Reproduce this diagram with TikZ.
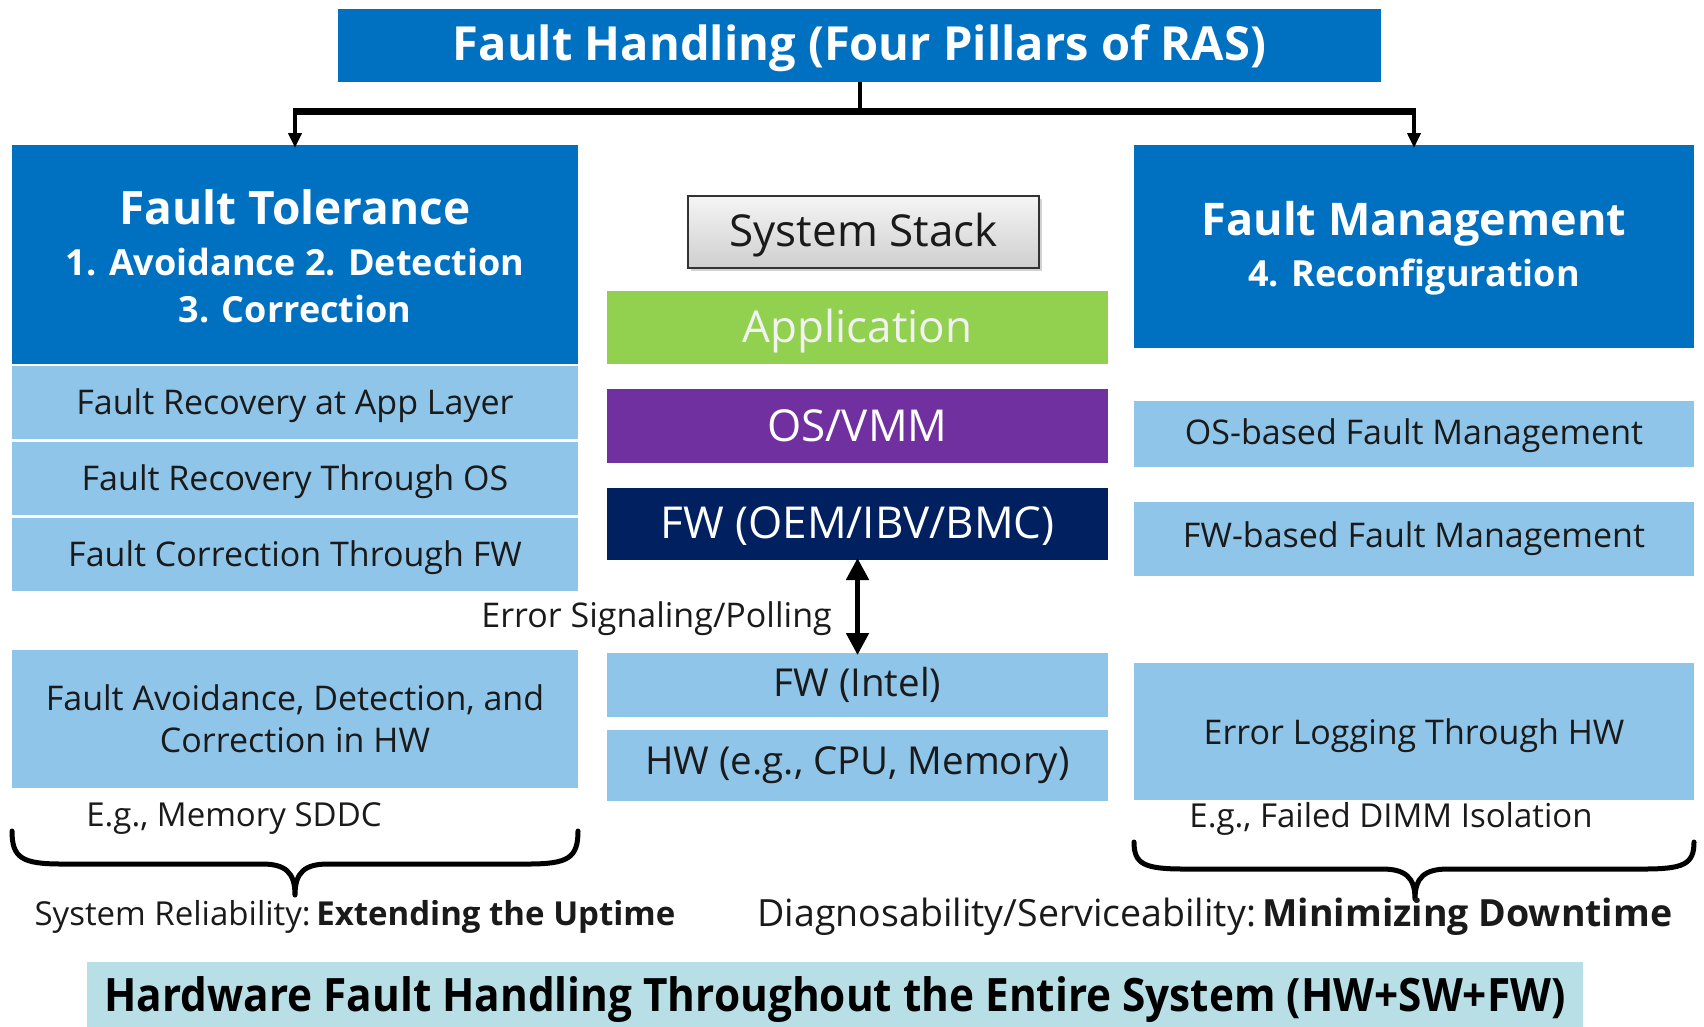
\documentclass[tikz,border=0pt]{standalone}
\usepackage{fontspec}
\setmainfont{Open Sans}
\usetikzlibrary{arrows.meta,shadows,calc}
\definecolor{rasblue}{HTML}{0070C0}
\definecolor{rowblue}{HTML}{8FC5E8}
\definecolor{appgreen}{HTML}{92D050}
\definecolor{ospurple}{HTML}{7030A0}
\definecolor{fwnavy}{HTML}{002060}
\definecolor{footteal}{HTML}{B7DFE5}
\definecolor{inktext}{HTML}{1A1A1A}
\newcommand{\fsz}[1]{\fontsize{#1}{#1}\selectfont}
% lower the ink without changing the box the node is centred on
\newcommand{\dropline}[2][3pt]{\raisebox{-#1}[\height][\depth]{#2}}
\tikzset{
  box/.style={rectangle, inner sep=0pt, outer sep=0pt, align=center},
  pillar/.style={box, fill=rasblue, text=white},
  head/.style={inner sep=0pt, text=white, font=\fsz{46}\bfseries},
  subhead/.style={inner sep=0pt, text=white, font=\fsz{36}\bfseries},
  row/.style={box, fill=rowblue, text=inktext, font=\fsz{34}},
  layer/.style={box, text=white, font=\fsz{44}},
  note/.style={inner sep=0pt, text=inktext},
  stem/.style={line width=4pt, black},
  drop/.style={line width=4pt, black, -{Triangle[length=15pt,width=13pt]}},
  brace/.style={line width=5pt, black, line cap=round, line join=round},
}
\begin{document}
\begin{tikzpicture}[x=1pt, y=-1pt]
\useasboundingbox (0,0) rectangle (1704,1026);
\fill[white] (0,0) rectangle (1704,1026);

% headline
\node[pillar, minimum width=1043pt, minimum height=73pt, font=\fsz{47}\bfseries] (title) at (859.5,45.5)
  {\dropline{Fault Handling (Four Pillars of RAS)}};

% left pillar: fault tolerance
\node[pillar, minimum width=566pt, minimum height=219pt] (ft) at (295,254.5) {};
\node[head] (fthead) at (295,207) {Fault Tolerance};
\node[subhead] (ftsub1) at (295,262) {1. Avoidance 2. Detection};
\node[subhead] (ftsub2) at (295,309) {3. Correction};
\node[row, minimum width=566pt, minimum height=73pt] (r1) at (295,402.5) {\dropline{Fault Recovery at App Layer}};
\node[row, minimum width=566pt, minimum height=73pt] (r2) at (295,478.5) {\dropline{Fault Recovery Through OS}};
\node[row, minimum width=566pt, minimum height=73pt] (r3) at (295,554.5) {\dropline{Fault Correction Through FW}};
\node[row, minimum width=566pt, minimum height=138pt] (hw) at (295,719)
  {Fault Avoidance, Detection, and\\[8pt]Correction in HW};

% centre column: system stack
\node[box, draw=black!80, line width=1.5pt, top color=gray!8, bottom color=gray!38,
      drop shadow={shadow xshift=3pt, shadow yshift=-3pt, opacity=0.35},
      minimum width=351pt, minimum height=72pt, font=\fsz{44}, text=inktext] (stack) at (863.5,232) {\dropline{System Stack}};
\node[layer, fill=appgreen, text=white!95!black, minimum width=501pt, minimum height=73pt] (app) at (857.5,327.5) {\dropline[4pt]{Application}};
\node[layer, fill=ospurple, minimum width=501pt, minimum height=74pt] (os) at (857.5,426) {OS/VMM};
\node[layer, fill=fwnavy, minimum width=501pt, minimum height=72pt] (fw) at (857.5,524) {\dropline[2pt]{FW (OEM/IBV/BMC)}};
\node[row, font=\fsz{38.5}, minimum width=501pt, minimum height=64pt] (fwi) at (857.5,685) {FW (Intel)};
\node[row, font=\fsz{38.5}, minimum width=501pt, minimum height=71pt] (hwc) at (857.5,765.5) {HW (e.g., CPU, Memory)};

% right pillar: fault management
\node[pillar, minimum width=560pt, minimum height=203pt] (fm) at (1414,246.5) {};
\node[head, font=\fsz{45}\bfseries] (fmhead) at (1414,224) {Fault Management};
\node[subhead] (fmsub) at (1414,277) {4. Reconfiguration};
\node[row, minimum width=560pt, minimum height=66pt] (osb) at (1414,434) {\dropline[2pt]{OS-based Fault Management}};
\node[row, minimum width=560pt, minimum height=74pt] (fwb) at (1414,539) {FW-based Fault Management};
\node[row, minimum width=560pt, minimum height=137pt] (el) at (1414,731.5) {\dropline[4pt]{Error Logging Through HW}};

% tree from the headline to both pillars
\coordinate (bar) at ($(title.south)+(0,29.5)$);
\draw[stem] (title.south) -- (bar);
\draw[line width=6.5pt, black] ([xshift=-2pt]bar -| ft.north) -- ([xshift=2pt]bar -| fm.north);
\draw[drop] (bar -| ft.north) -- ([yshift=-3pt]ft.north);
\draw[drop] (bar -| fm.north) -- ([yshift=-3pt]fm.north);

% error path between firmware layers
\draw[line width=5pt, black, {Triangle[length=22pt,width=22pt]}-{Triangle[length=22pt,width=22pt]}]
  ([yshift=2pt]fw.south) -- ([yshift=-2pt]fwi.north);
\node[note, anchor=east, font=\fsz{34}] (sig) at (832,619) {Error Signaling/Polling};

% examples and braces
\node[note, font=\fsz{33}] (exl) at (234,819) {E.g., Memory SDDC};
\node[note, font=\fsz{33}] (exr) at (1391,819) {E.g., Failed DIMM Isolation};
\draw[brace] (12,831) .. controls (12,858) and (22,864) .. (62,864) -- (262,864)
  .. controls (285,864) and (295,872) .. (295,895)
  .. controls (295,872) and (305,864) .. (328,864) -- (528,864)
  .. controls (568,864) and (578,858) .. (578,831);
\draw[brace] (1134,842) .. controls (1134,864) and (1144,869) .. (1184,869) -- (1382,869)
  .. controls (1405,869) and (1415,877) .. (1415,899)
  .. controls (1415,877) and (1425,869) .. (1448,869) -- (1644,869)
  .. controls (1684,869) and (1694,864) .. (1694,842);
\node[note, font=\fsz{33}] (rel) at (355,917) {System Reliability:\,\textbf{Extending the Uptime}};
\node[note, font=\fsz{37.5}] (diag) at (1215,917) {Diagnosability/Serviceability:\,\textbf{Minimizing Downtime}};

% footer banner
\node[box, fill=footteal, text=black, minimum width=1496pt, minimum height=66pt] (foot) at (835,995)
  {\dropline[5pt]{\scalebox{0.92}[1]{\fsz{46}\bfseries Hardware Fault Handling Throughout the Entire System (HW+SW+FW)}}};
\end{tikzpicture}
\end{document}
